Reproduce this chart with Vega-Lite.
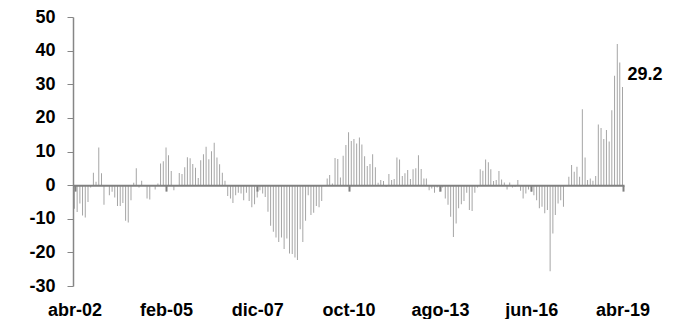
{
  "$schema": "https://vega.github.io/schema/vega-lite/v6.json",
  "width": 551,
  "height": 269,
  "autosize": {"type": "none"},
  "padding": {"left": 73, "top": 17, "right": 51, "bottom": 33},
  "background": "white",
  "config": {"view": {"stroke": null}, "font": "Liberation Sans", "axis": {"labelOverlap": false, "labelFlush": false, "grid": false}},
  "data": {"values": [
    {"fecha": "2002-04-01", "valor": -7}, {"fecha": "2002-05-01", "valor": -8}, {"fecha": "2002-06-01", "valor": -5.5}, {"fecha": "2002-07-01", "valor": -9}, {"fecha": "2002-08-01", "valor": -9.6}, {"fecha": "2002-09-01", "valor": -5}, {"fecha": "2002-10-01", "valor": -0.7}, {"fecha": "2002-11-01", "valor": 3.7}, {"fecha": "2002-12-01", "valor": 1},
    {"fecha": "2003-01-01", "valor": 11.2}, {"fecha": "2003-02-01", "valor": 3.5}, {"fecha": "2003-03-01", "valor": -5.8}, {"fecha": "2003-04-01", "valor": 0}, {"fecha": "2003-05-01", "valor": -3}, {"fecha": "2003-06-01", "valor": -2}, {"fecha": "2003-07-01", "valor": -3.7}, {"fecha": "2003-08-01", "valor": -6.2}, {"fecha": "2003-09-01", "valor": -6.2}, {"fecha": "2003-10-01", "valor": -5.3}, {"fecha": "2003-11-01", "valor": -10.6}, {"fecha": "2003-12-01", "valor": -11.1},
    {"fecha": "2004-01-01", "valor": -4.5}, {"fecha": "2004-02-01", "valor": 0.7}, {"fecha": "2004-03-01", "valor": 5}, {"fecha": "2004-04-01", "valor": -0.7}, {"fecha": "2004-05-01", "valor": 1.3}, {"fecha": "2004-06-01", "valor": 0}, {"fecha": "2004-07-01", "valor": -4}, {"fecha": "2004-08-01", "valor": -4.3}, {"fecha": "2004-09-01", "valor": 0}, {"fecha": "2004-10-01", "valor": -1.3}, {"fecha": "2004-11-01", "valor": 0.5}, {"fecha": "2004-12-01", "valor": 6.4},
    {"fecha": "2005-01-01", "valor": 7.1}, {"fecha": "2005-02-01", "valor": 11.2}, {"fecha": "2005-03-01", "valor": 8.9}, {"fecha": "2005-04-01", "valor": 4.2}, {"fecha": "2005-05-01", "valor": -1.5}, {"fecha": "2005-06-01", "valor": 0}, {"fecha": "2005-07-01", "valor": 3.6}, {"fecha": "2005-08-01", "valor": 3.3}, {"fecha": "2005-09-01", "valor": 5.3}, {"fecha": "2005-10-01", "valor": 8.3}, {"fecha": "2005-11-01", "valor": 8}, {"fecha": "2005-12-01", "valor": 6.3},
    {"fecha": "2006-01-01", "valor": 5.2}, {"fecha": "2006-02-01", "valor": 2.1}, {"fecha": "2006-03-01", "valor": 7.4}, {"fecha": "2006-04-01", "valor": 9.2}, {"fecha": "2006-05-01", "valor": 11.4}, {"fecha": "2006-06-01", "valor": 7.7}, {"fecha": "2006-07-01", "valor": 10.1}, {"fecha": "2006-08-01", "valor": 12.6}, {"fecha": "2006-09-01", "valor": 8.2}, {"fecha": "2006-10-01", "valor": 6.2}, {"fecha": "2006-11-01", "valor": 3.7}, {"fecha": "2006-12-01", "valor": 1.3},
    {"fecha": "2007-01-01", "valor": -3.2}, {"fecha": "2007-02-01", "valor": -4}, {"fecha": "2007-03-01", "valor": -5.3}, {"fecha": "2007-04-01", "valor": -3}, {"fecha": "2007-05-01", "valor": -2.3}, {"fecha": "2007-06-01", "valor": -2.5}, {"fecha": "2007-07-01", "valor": -4.5}, {"fecha": "2007-08-01", "valor": -2.3}, {"fecha": "2007-09-01", "valor": -4.7}, {"fecha": "2007-10-01", "valor": -6.6}, {"fecha": "2007-11-01", "valor": -5.7}, {"fecha": "2007-12-01", "valor": -3.7},
    {"fecha": "2008-01-01", "valor": -1.5}, {"fecha": "2008-02-01", "valor": -2.5}, {"fecha": "2008-03-01", "valor": -3.5}, {"fecha": "2008-04-01", "valor": -7.9}, {"fecha": "2008-05-01", "valor": -12.1}, {"fecha": "2008-06-01", "valor": -13.9}, {"fecha": "2008-07-01", "valor": -15.6}, {"fecha": "2008-08-01", "valor": -16.9}, {"fecha": "2008-09-01", "valor": -15.6}, {"fecha": "2008-10-01", "valor": -19}, {"fecha": "2008-11-01", "valor": -15.9}, {"fecha": "2008-12-01", "valor": -20.3},
    {"fecha": "2009-01-01", "valor": -20.5}, {"fecha": "2009-02-01", "valor": -21.5}, {"fecha": "2009-03-01", "valor": -22.3}, {"fecha": "2009-04-01", "valor": -13.1}, {"fecha": "2009-05-01", "valor": -16.9}, {"fecha": "2009-06-01", "valor": -10.6}, {"fecha": "2009-07-01", "valor": -3}, {"fecha": "2009-08-01", "valor": -8.9}, {"fecha": "2009-09-01", "valor": -8.2}, {"fecha": "2009-10-01", "valor": -6.2}, {"fecha": "2009-11-01", "valor": -6.6}, {"fecha": "2009-12-01", "valor": -4.7},
    {"fecha": "2010-01-01", "valor": 0}, {"fecha": "2010-02-01", "valor": 2}, {"fecha": "2010-03-01", "valor": 3}, {"fecha": "2010-04-01", "valor": 0.5}, {"fecha": "2010-05-01", "valor": 8.1}, {"fecha": "2010-06-01", "valor": 7.8}, {"fecha": "2010-07-01", "valor": 2.3}, {"fecha": "2010-08-01", "valor": 8.7}, {"fecha": "2010-09-01", "valor": 11.9}, {"fecha": "2010-10-01", "valor": 15.7}, {"fecha": "2010-11-01", "valor": 13.1}, {"fecha": "2010-12-01", "valor": 13.7},
    {"fecha": "2011-01-01", "valor": 12.4}, {"fecha": "2011-02-01", "valor": 14.2}, {"fecha": "2011-03-01", "valor": 12.1}, {"fecha": "2011-04-01", "valor": 8.6}, {"fecha": "2011-05-01", "valor": 5.7}, {"fecha": "2011-06-01", "valor": 6.3}, {"fecha": "2011-07-01", "valor": 9.2}, {"fecha": "2011-08-01", "valor": 5.3}, {"fecha": "2011-09-01", "valor": 0.7}, {"fecha": "2011-10-01", "valor": 1.5}, {"fecha": "2011-11-01", "valor": 1.2}, {"fecha": "2011-12-01", "valor": -0.5},
    {"fecha": "2012-01-01", "valor": 3.3}, {"fecha": "2012-02-01", "valor": 1.5}, {"fecha": "2012-03-01", "valor": 1.8}, {"fecha": "2012-04-01", "valor": 8.2}, {"fecha": "2012-05-01", "valor": 7.6}, {"fecha": "2012-06-01", "valor": 2.7}, {"fecha": "2012-07-01", "valor": 3.5}, {"fecha": "2012-08-01", "valor": 4.5}, {"fecha": "2012-09-01", "valor": 1.8}, {"fecha": "2012-10-01", "valor": 4.7}, {"fecha": "2012-11-01", "valor": 5}, {"fecha": "2012-12-01", "valor": 8.9},
    {"fecha": "2013-01-01", "valor": 4.8}, {"fecha": "2013-02-01", "valor": 2}, {"fecha": "2013-03-01", "valor": 2}, {"fecha": "2013-04-01", "valor": -1.5}, {"fecha": "2013-05-01", "valor": -1}, {"fecha": "2013-06-01", "valor": -2.3}, {"fecha": "2013-07-01", "valor": -0.7}, {"fecha": "2013-08-01", "valor": -2}, {"fecha": "2013-09-01", "valor": -0.7}, {"fecha": "2013-10-01", "valor": -4}, {"fecha": "2013-11-01", "valor": -5.8}, {"fecha": "2013-12-01", "valor": -9.4},
    {"fecha": "2014-01-01", "valor": -15.4}, {"fecha": "2014-02-01", "valor": -11.4}, {"fecha": "2014-03-01", "valor": -6.9}, {"fecha": "2014-04-01", "valor": -5.7}, {"fecha": "2014-05-01", "valor": -4.7}, {"fecha": "2014-06-01", "valor": -2.3}, {"fecha": "2014-07-01", "valor": -7.4}, {"fecha": "2014-08-01", "valor": -7.7}, {"fecha": "2014-09-01", "valor": -2.3}, {"fecha": "2014-10-01", "valor": -0.7}, {"fecha": "2014-11-01", "valor": 4.7}, {"fecha": "2014-12-01", "valor": 4.3},
    {"fecha": "2015-01-01", "valor": 7.6}, {"fecha": "2015-02-01", "valor": 6.8}, {"fecha": "2015-03-01", "valor": 4.7}, {"fecha": "2015-04-01", "valor": 1.2}, {"fecha": "2015-05-01", "valor": 1.5}, {"fecha": "2015-06-01", "valor": 4.2}, {"fecha": "2015-07-01", "valor": 1.7}, {"fecha": "2015-08-01", "valor": 0.8}, {"fecha": "2015-09-01", "valor": -1.3}, {"fecha": "2015-10-01", "valor": 0.8}, {"fecha": "2015-11-01", "valor": -0.7}, {"fecha": "2015-12-01", "valor": -0.5},
    {"fecha": "2016-01-01", "valor": 1.5}, {"fecha": "2016-02-01", "valor": -1.7}, {"fecha": "2016-03-01", "valor": -4}, {"fecha": "2016-04-01", "valor": -2.5}, {"fecha": "2016-05-01", "valor": -1.3}, {"fecha": "2016-06-01", "valor": -2}, {"fecha": "2016-07-01", "valor": -3}, {"fecha": "2016-08-01", "valor": -4.5}, {"fecha": "2016-09-01", "valor": -6.9}, {"fecha": "2016-10-01", "valor": -6.4}, {"fecha": "2016-11-01", "valor": -8.4}, {"fecha": "2016-12-01", "valor": -7.4},
    {"fecha": "2017-01-01", "valor": -25.6}, {"fecha": "2017-02-01", "valor": -14.4}, {"fecha": "2017-03-01", "valor": -8.9}, {"fecha": "2017-04-01", "valor": -5.5}, {"fecha": "2017-05-01", "valor": -4.5}, {"fecha": "2017-06-01", "valor": -6.4}, {"fecha": "2017-07-01", "valor": 0}, {"fecha": "2017-08-01", "valor": 2.5}, {"fecha": "2017-09-01", "valor": 6}, {"fecha": "2017-10-01", "valor": 4}, {"fecha": "2017-11-01", "valor": 5.5}, {"fecha": "2017-12-01", "valor": 2.5},
    {"fecha": "2018-01-01", "valor": 22.6}, {"fecha": "2018-02-01", "valor": 8.2}, {"fecha": "2018-03-01", "valor": 1.5}, {"fecha": "2018-04-01", "valor": 2}, {"fecha": "2018-05-01", "valor": 1.3}, {"fecha": "2018-06-01", "valor": 2.7}, {"fecha": "2018-07-01", "valor": 18}, {"fecha": "2018-08-01", "valor": 17}, {"fecha": "2018-09-01", "valor": 13.7}, {"fecha": "2018-10-01", "valor": 16.4}, {"fecha": "2018-11-01", "valor": 13}, {"fecha": "2018-12-01", "valor": 22.3},
    {"fecha": "2019-01-01", "valor": 32.5}, {"fecha": "2019-02-01", "valor": 42}, {"fecha": "2019-03-01", "valor": 36.5}, {"fecha": "2019-04-01", "valor": 29.2}
  ]},
  "encoding": {
    "x": {
      "field": "fecha", "type": "temporal",
      "scale": {"type": "utc", "domain": [{"year": 2002, "month": 4, "date": 1, "utc": true}, {"year": 2019, "month": 4, "date": 1, "utc": true}], "padding": 1.5},
      "axis": {
        "orient": "bottom", "offset": -100.875, "title": null, "zindex": 1, "labelOverlap": false,
        "values": [{"year": 2002, "month": 4, "date": 1, "utc": true}, {"year": 2005, "month": 2, "date": 1, "utc": true}, {"year": 2007, "month": 12, "date": 1, "utc": true}, {"year": 2010, "month": 10, "date": 1, "utc": true}, {"year": 2013, "month": 8, "date": 1, "utc": true}, {"year": 2016, "month": 6, "date": 1, "utc": true}, {"year": 2019, "month": 4, "date": 1, "utc": true}],
        "labelExpr": "['ene','feb','mar','abr','may','jun','jul','ago','sep','oct','nov','dic'][utcmonth(datum.value)] + '-' + utcFormat(datum.value, '%y')",
        "domainColor": "#808080", "domainWidth": 2, "tickColor": "#808080", "tickWidth": 2, "tickSize": 6,
        "labelPadding": 110, "labelFontSize": 18, "labelFontWeight": "bold", "labelColor": "black", "labelFont": "Liberation Sans"
      }
    },
    "y": {
      "field": "valor", "type": "quantitative",
      "scale": {"domain": [-30, 50], "nice": false},
      "axis": {
        "title": null, "values": [-30, -20, -10, 0, 10, 20, 30, 40, 50], "labelOverlap": false,
        "labelExpr": "'' + datum.value",
        "domainColor": "#868686", "domainWidth": 1.5, "tickColor": "#868686", "tickSize": 6,
        "labelPadding": 12, "labelFontSize": 18, "labelFontWeight": "bold", "labelColor": "black", "labelFont": "Liberation Sans"
      }
    }
  },
  "layer": [
    {
      "mark": {"type": "bar", "width": 1, "color": "#a5a5a5"}
    },
    {
      "transform": [{"filter": "datum.valor == 29.2"}],
      "mark": {"type": "text", "align": "left", "baseline": "middle", "dx": 5, "dy": -12, "fontSize": 18, "fontWeight": "bold", "font": "Liberation Sans", "color": "black"},
      "encoding": {
        "text": {"field": "valor", "type": "quantitative", "format": ".1f"}
      }
    }
  ]
}
